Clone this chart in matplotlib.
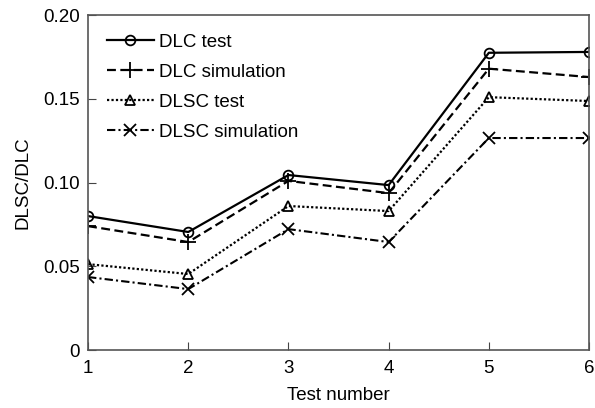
import matplotlib
matplotlib.use("Agg")
import matplotlib.pyplot as plt

plt.rcParams["font.family"] = ["Liberation Sans", "DejaVu Sans"]
plt.rcParams["font.size"] = 13.5

tests = [1, 2, 3, 4, 5, 6]
dlc_test = [0.080, 0.0705, 0.1045, 0.0985, 0.1775, 0.178]
dlc_sim = [0.074, 0.0645, 0.101, 0.0937, 0.168, 0.163]
dlsc_test = [0.0513, 0.0454, 0.086, 0.083, 0.151, 0.1487]
dlsc_sim = [0.0436, 0.0364, 0.0722, 0.0645, 0.1266, 0.1266]

fig = plt.figure(figsize=(5.95, 4.08), dpi=100)
ax = fig.add_axes([0.148, 0.142, 0.842, 0.821])

common = dict(color="black", markersize=7, markerfacecolor="none",
              markeredgecolor="black", markeredgewidth=1.3)
ax.plot(tests, dlc_test, "-", marker="o", lw=1.6, label="DLC test", **common)
ax.plot(tests, dlc_sim, marker="+", lw=1.6, dashes=(4, 2), label="DLC simulation",
        **{**common, "markersize": 11})
ax.plot(tests, dlsc_test, marker="^", lw=1.6, dashes=(1, 1), label="DLSC test",
        **common)
ax.plot(tests, dlsc_sim, marker="x", lw=1.5, dashes=(4, 1.5, 1, 1.5),
        label="DLSC simulation", **{**common, "markersize": 8})

ax.set_xlim(1, 6)
ax.set_ylim(0, 0.20)
ax.set_xticks(tests)
ax.set_yticks([0, 0.05, 0.10, 0.15, 0.20])
ax.set_yticklabels(["0", "0.05", "0.10", "0.15", "0.20"])
ax.tick_params(direction="in", length=6, color="#444444", top=False, right=False)
ax.tick_params(axis="x", pad=7)
ax.tick_params(axis="y", pad=6)
for s in ax.spines.values():
    s.set_color("#555555")
    s.set_linewidth(1.2)

ax.set_xlabel("Test number", labelpad=7)
ax.set_ylabel("DLSC/DLC", labelpad=8)

ax.legend(loc="upper left", frameon=False, handlelength=2.5, handletextpad=0.3,
          labelspacing=0.68, borderaxespad=0.6, bbox_to_anchor=(0.0, 1.0))

fig.savefig("out.png", dpi=100)
